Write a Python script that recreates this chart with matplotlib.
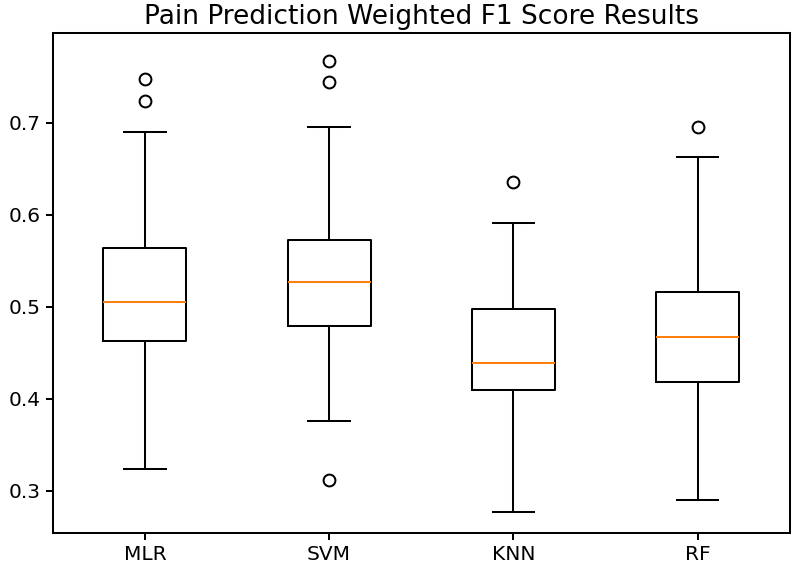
import matplotlib
matplotlib.use("Agg")
import matplotlib.pyplot as plt

# per-model summary stats
labels = ["MLR", "SVM", "KNN", "RF"]
whislo = [0.323, 0.376, 0.277, 0.290]
q1 = [0.463, 0.479, 0.409, 0.418]
med = [0.505, 0.527, 0.439, 0.467]
q3 = [0.564, 0.573, 0.497, 0.516]
whishi = [0.690, 0.695, 0.591, 0.663]
fliers = [[0.724, 0.748], [0.745, 0.767, 0.311], [0.636], [0.696]]

stats = []
for i, lab in enumerate(labels):
    stats.append({"label": lab, "whislo": whislo[i], "q1": q1[i], "med": med[i],
                  "q3": q3[i], "whishi": whishi[i], "fliers": fliers[i]})

fig = plt.figure(figsize=(8, 5.76), dpi=100)
ax = fig.add_axes([0.066, 0.075, 0.921, 0.868])

lw = 1.45
ax.bxp(stats,
       boxprops=dict(linewidth=lw, color="black"),
       whiskerprops=dict(linewidth=lw, color="black"),
       capprops=dict(linewidth=lw, color="black"),
       medianprops=dict(linewidth=lw, color="#ff7f0e"),
       flierprops=dict(marker="o", markersize=8.5, markerfacecolor="none",
                       markeredgecolor="black", markeredgewidth=lw))

ax.set_ylim(0.254, 0.798)
ax.set_yticks([0.3, 0.4, 0.5, 0.6, 0.7])
ax.tick_params(labelsize=14.5, width=lw, length=5)
for spine in ax.spines.values():
    spine.set_linewidth(lw)

ax.set_title("Pain Prediction Weighted F1 Score Results", fontsize=19, pad=6)

fig.savefig("out.png", dpi=100)
